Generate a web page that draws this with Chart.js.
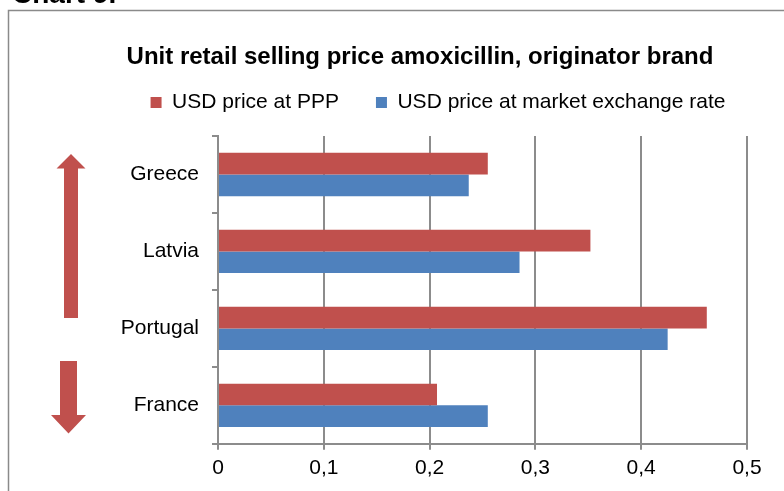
<!DOCTYPE html>
<html>
<head>
<meta charset="utf-8">
<script src="https://cdn.jsdelivr.net/npm/chart.js@4.4.1/dist/chart.umd.min.js"></script>
<style>
    html, body { margin: 0; padding: 0; background: #fff; }
    #wrap { width: 784px; height: 491px; position: relative; }
</style>
</head>
<body>
<div id="wrap"><canvas id="priceChart"></canvas></div>
<script>
const countries = ['Greece', 'Latvia', 'Portugal', 'France'];
const pppPrice = [0.255, 0.352, 0.462, 0.207];
const marketPrice = [0.237, 0.285, 0.425, 0.255];
const xTicks = [0, 0.1, 0.2, 0.3, 0.4, 0.5];

let redColor = '#C0504D';
let blueColor = '#4F81BD';
let gridColor = '#8C8C8C';
let fontFamily = '"Liberation Sans", Arial, sans-serif';

//plugins
const frameAndTitle = {
    id: 'frameAndTitle',
    beforeInit(chart) {
        // push the plot a bit further below the legend
        const fitLegend = chart.legend.fit;
        chart.legend.fit = function () {
            fitLegend.call(this);
            this.height += 13;
        };
    },
    afterLayout(chart) {
        // legend sits a little right of the title in the original
        chart.legend.left += 20;
        chart.legend.right += 20;
    },
    beforeDraw(chart) {
        const { ctx } = chart;
        ctx.save();
        ctx.fillStyle = '#fff';
        ctx.fillRect(0, 0, chart.width, chart.height);
        ctx.strokeStyle = '#8A8A8A';
        ctx.lineWidth = 1.5;
        ctx.strokeRect(8.5, 10.5, 800, 500);
        ctx.fillStyle = '#000';
        ctx.textBaseline = 'alphabetic';
        ctx.textAlign = 'left';
        ctx.font = 'bold 28px ' + fontFamily;
        ctx.fillText('Chart 9.', 12, 3);
        ctx.textAlign = 'center';
        ctx.textBaseline = 'middle';
        ctx.font = 'bold 24px ' + fontFamily;
        ctx.fillText('Unit retail selling price amoxicillin, originator brand', 420, 57);
        ctx.restore();
    },
    afterDraw(chart) {
        const { ctx } = chart;
        ctx.save();
        ctx.fillStyle = redColor;
        // up arrow
        ctx.beginPath();
        ctx.moveTo(71, 154);
        ctx.lineTo(85.5, 168.5);
        ctx.lineTo(78, 168.5);
        ctx.lineTo(78, 318);
        ctx.lineTo(64, 318);
        ctx.lineTo(64, 168.5);
        ctx.lineTo(56.5, 168.5);
        ctx.closePath();
        ctx.fill();
        // down arrow
        ctx.beginPath();
        ctx.moveTo(60, 361);
        ctx.lineTo(77, 361);
        ctx.lineTo(77, 415);
        ctx.lineTo(86, 415);
        ctx.lineTo(68.5, 433.5);
        ctx.lineTo(51, 415);
        ctx.lineTo(60, 415);
        ctx.closePath();
        ctx.fill();
        ctx.restore();
    }
};

const data = {
    labels: countries,
    datasets: [
        {
            label: 'USD price at PPP',
            data: pppPrice,
            backgroundColor: redColor,
            borderColor: redColor,
            categoryPercentage: 0.564,
            barPercentage: 1.0
        },
        {
            label: 'USD price at market exchange rate',
            data: marketPrice,
            backgroundColor: blueColor,
            borderColor: blueColor,
            categoryPercentage: 0.564,
            barPercentage: 1.0
        }
    ]
};

// config
const config = {
    type: 'bar',
    data: data,
    options: {
        indexAxis: 'y',
        animation: false,
        responsive: true,
        maintainAspectRatio: false,
        layout: {
            padding: { left: 89, right: 37, top: 55, bottom: 4 }
        },
        plugins: {
            title: { display: false },
            tooltip: { enabled: false },
            legend: {
                display: true,
                position: 'top',
                labels: {
                    boxWidth: 11,
                    boxHeight: 11,
                    padding: 37,
                    color: '#000',
                    font: { family: fontFamily, size: 21 }
                }
            }
        },
        scales: {
            x: {
                min: 0,
                max: 0.5,
                afterBuildTicks: (axis) => {
                    axis.ticks = xTicks.map(v => ({ value: v }));
                },
                grid: {
                    color: gridColor,
                    lineWidth: 2,
                    tickLength: 6,
                    drawTicks: true
                },
                border: { display: true, color: gridColor, width: 2 },
                ticks: {
                    padding: 6,
                    color: '#000',
                    font: { family: fontFamily, size: 21 },
                    callback: (v) => v === 0 ? '0' : Number(v).toFixed(1).replace('.', ',')
                }
            },
            y: {
                afterFit: (axis) => { axis.width = 129; },
                grid: {
                    offset: true,
                    drawOnChartArea: false,
                    color: gridColor,
                    lineWidth: 2,
                    tickLength: 6
                },
                border: { display: true, color: gridColor, width: 2 },
                ticks: {
                    padding: 13,
                    color: '#000',
                    font: { family: fontFamily, size: 21 }
                }
            }
        }
    },
    plugins: [frameAndTitle]
};

const priceChart = new Chart('priceChart', config);
</script>
</body>
</html>
